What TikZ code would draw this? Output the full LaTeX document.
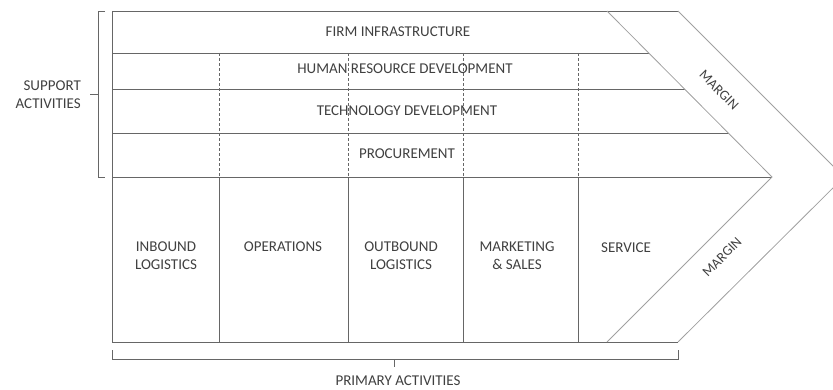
\documentclass[tikz,border=0pt]{standalone}
\usepackage{fontspec}
\setmainfont{Carlito}
\definecolor{linecol}{HTML}{666666}
\definecolor{diagcol}{HTML}{A0A0A0}
\definecolor{txtcol}{HTML}{404040}
\begin{document}
\begin{tikzpicture}[x=1pt,y=-1pt,
  frame/.style={draw=linecol,line width=0.8pt},
  diag/.style={draw=diagcol,line width=0.8pt},
  sep/.style={draw=linecol,line width=0.6pt,dash pattern=on 3pt off 2pt},
  brace/.style={draw=linecol,line width=0.6pt},
  lbl/.style={text=txtcol,font=\fontsize{15}{18}\selectfont,inner sep=0pt,align=center},
  mlbl/.style={text=txtcol,font=\fontsize{14}{16}\selectfont,inner sep=0pt}]
\useasboundingbox (0,0) rectangle (833,390);
\clip (0,0) rectangle (833,390);
% corners
\coordinate (tl) at (112,11);
\coordinate (tr) at (678,11);
\coordinate (bl) at (112,342);
\coordinate (br) at (678,342);
\coordinate (itop) at (607,11);
\coordinate (itip) at (772,177);
\coordinate (ibot) at (607,342);
\coordinate (otip) at (844,177);
% row boundaries
\coordinate (r1l) at (112,53);  \coordinate (r1r) at (649,53);
\coordinate (r2l) at (112,89);  \coordinate (r2r) at (685,89);
\coordinate (r3l) at (112,133); \coordinate (r3r) at (729,133);
\coordinate (r4l) at (112,177);
% outline
\draw[frame] (tl) -- (tr);
\draw[frame] (tl) -- (bl) -- (br);
\draw[frame] (r1l) -- (r1r);
\draw[frame] (r2l) -- (r2r);
\draw[frame] (r3l) -- (r3r);
\draw[frame] (r4l) -- (itip);
\draw[diag] (itop) -- (itip) -- (ibot);
\draw[diag] (tr) -- (otip) -- (br);
% column separators
\foreach \cx [count=\i] in {219,348,463,578}{
  \coordinate (ct\i) at (\cx,53);
  \coordinate (cm\i) at (\cx,177);
  \coordinate (cb\i) at (\cx,342);
  \draw[sep] (ct\i) -- (cm\i);
  \draw[frame] (cm\i) -- (cb\i);
}
% support labels
\node[lbl] (firm) at (398,32) {FIRM INFRASTRUCTURE};
\node[lbl] (hrd) at (405,69) {HUMAN RESOURCE DEVELOPMENT};
\node[lbl] (tech) at (407,111) {TECHNOLOGY DEVELOPMENT};
\node[lbl] (proc) at (407,154) {PROCUREMENT};
% primary labels
\node[lbl] (inb) at (166,256) {INBOUND\\LOGISTICS};
\node[lbl] (ops) at (283,247) {OPERATIONS};
\node[lbl] (outb) at (401,256) {OUTBOUND\\LOGISTICS};
\node[lbl] (mkt) at (517,256) {MARKETING\\\& SALES};
\node[lbl] (serv) at (626,248) {SERVICE};
% margin labels
\node[mlbl,rotate=-45] (m1) at (719,90) {MARGIN};
\node[mlbl,rotate=45] (m2) at (722,257) {MARGIN};
% left brace
\coordinate (lb1) at (105,11);
\coordinate (lb2) at (98,11);
\coordinate (lb3) at (98,177);
\coordinate (lb4) at (105,177);
\coordinate (lbm) at (98,94);
\coordinate (lbt) at (90,94);
\draw[brace] (lb1) -- (lb2) -- (lb3) -- (lb4);
\draw[brace] (lbm) -- (lbt);
\node[lbl,align=right,anchor=east] (sup) at (81,95) {SUPPORT\\ACTIVITIES};
% bottom brace
\coordinate (bb1) at (112,350);
\coordinate (bb2) at (112,359);
\coordinate (bb3) at (678,359);
\coordinate (bb4) at (678,350);
\coordinate (bbm) at (394,359);
\coordinate (bbt) at (394,367);
\draw[brace] (bb1) -- (bb2) -- (bb3) -- (bb4);
\draw[brace] (bbm) -- (bbt);
\node[lbl] (prim) at (398,381) {PRIMARY ACTIVITIES};
\end{tikzpicture}
\end{document}
